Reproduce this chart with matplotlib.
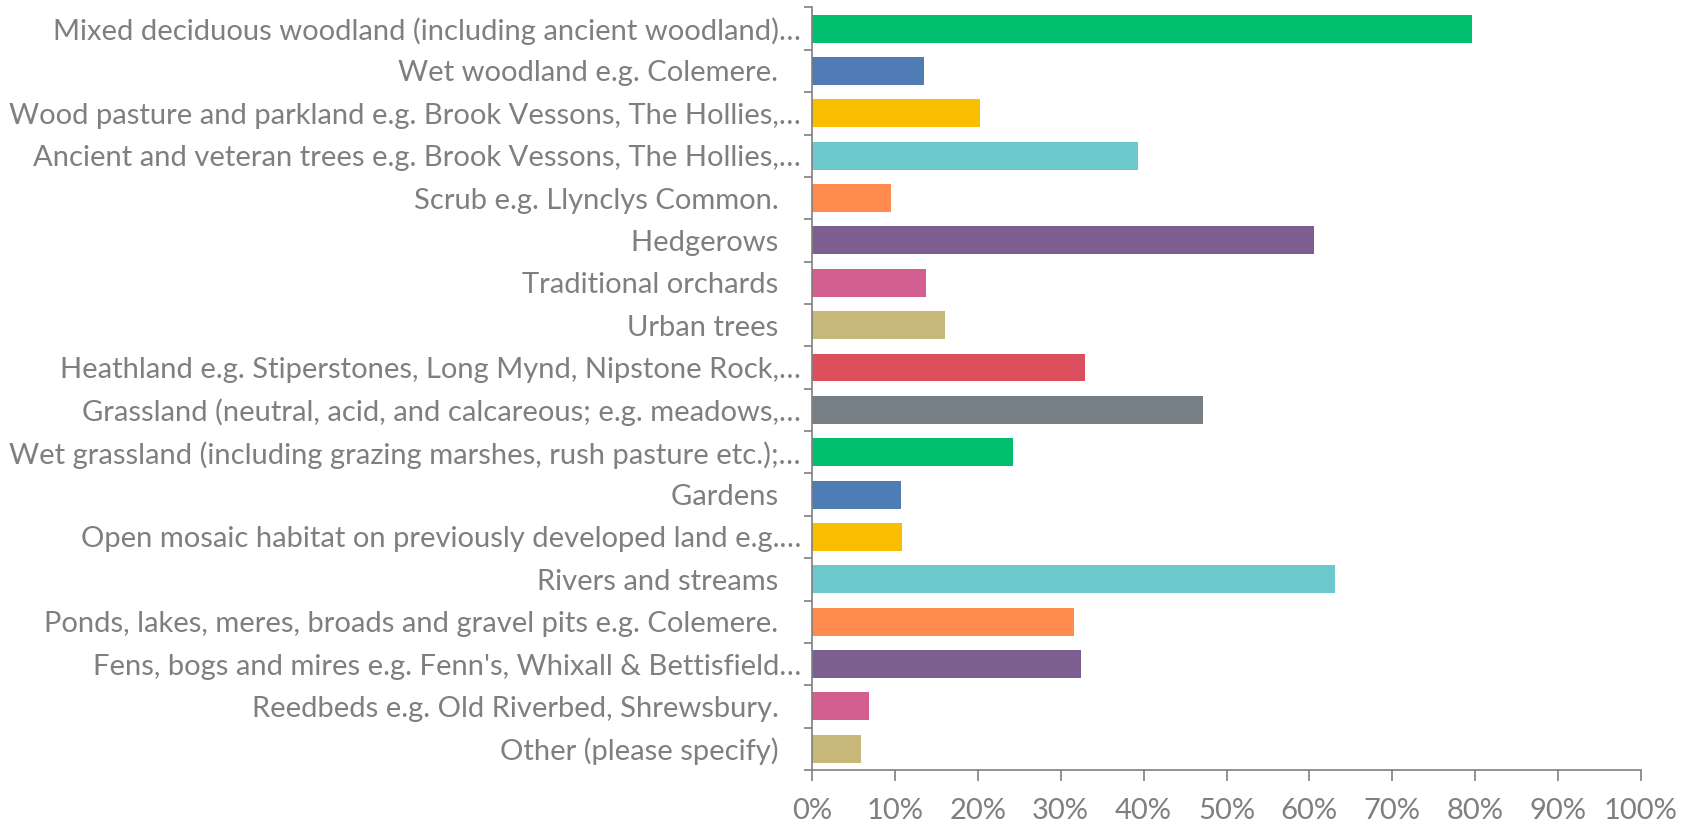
import numpy as np
import matplotlib.pyplot as plt
from matplotlib.ticker import PercentFormatter

labels = [
    "Mixed deciduous woodland (including ancient woodland)\u2026",
    "Wet woodland e.g. Colemere.   ",
    "Wood pasture and parkland e.g. Brook Vessons, The Hollies,\u2026",
    "Ancient and veteran trees e.g. Brook Vessons, The Hollies,\u2026",
    "Scrub e.g. Llynclys Common.   ",
    "Hedgerows   ",
    "Traditional orchards   ",
    "Urban trees   ",
    "Heathland e.g. Stiperstones, Long Mynd, Nipstone Rock,\u2026",
    "Grassland (neutral, acid, and calcareous; e.g. meadows,\u2026",
    "Wet grassland (including grazing marshes, rush pasture etc.);\u2026",
    "Gardens   ",
    "Open mosaic habitat on previously developed land e.g.\u2026",
    "Rivers and streams   ",
    "Ponds, lakes, meres, broads and gravel pits e.g. Colemere.   ",
    "Fens, bogs and mires e.g. Fenn's, Whixall & Bettisfield\u2026",
    "Reedbeds e.g. Old Riverbed, Shrewsbury.   ",
    "Other (please specify)   ",
]
values = [79.6, 13.5, 20.3, 39.3, 9.5, 60.5, 13.8, 16.0, 32.9,
          47.2, 24.2, 10.7, 10.9, 63.1, 31.6, 32.4, 6.9, 5.9]

palette = ["#00BF6F", "#507CB6", "#F9BE00", "#6BC8CD", "#FF8B4F",
           "#7D5E90", "#D25F90", "#C7B879", "#DC4F5C", "#768086"]
colors = [palette[i % len(palette)] for i in range(len(values))]

grey = "#7F7F7F"
plt.rcParams['font.family'] = ['Lato', 'DejaVu Sans']

fig = plt.figure(figsize=(16.91, 8.25), dpi=100)
ax = fig.add_axes([812 / 1691, 1 - 770 / 825, (1641 - 812) / 1691, (770 - 7.4) / 825])

y = np.arange(len(values))
ax.barh(y, values, height=0.66, color=colors)
ax.set_ylim(len(values) - 0.5, -0.5)
ax.set_xlim(0, 100)

ax.set_yticks(y)
ax.set_yticklabels(labels, fontsize=21, color=grey)
ax.set_yticks(np.arange(-0.5, len(values), 1), minor=True)
ax.tick_params(axis='y', which='major', length=0, pad=8)
ax.tick_params(axis='y', which='minor', length=6, color=grey, width=1.2)

ax.set_xticks(np.arange(0, 101, 10))
ax.xaxis.set_major_formatter(PercentFormatter(decimals=0))
ax.tick_params(axis='x', length=8, color=grey, width=1.2, labelsize=21,
               labelcolor=grey, pad=12)

for s in ['top', 'right']:
    ax.spines[s].set_visible(False)
for s in ['left', 'bottom']:
    ax.spines[s].set_color(grey)
    ax.spines[s].set_linewidth(1.2)

fig.savefig("out.png", dpi=100)
